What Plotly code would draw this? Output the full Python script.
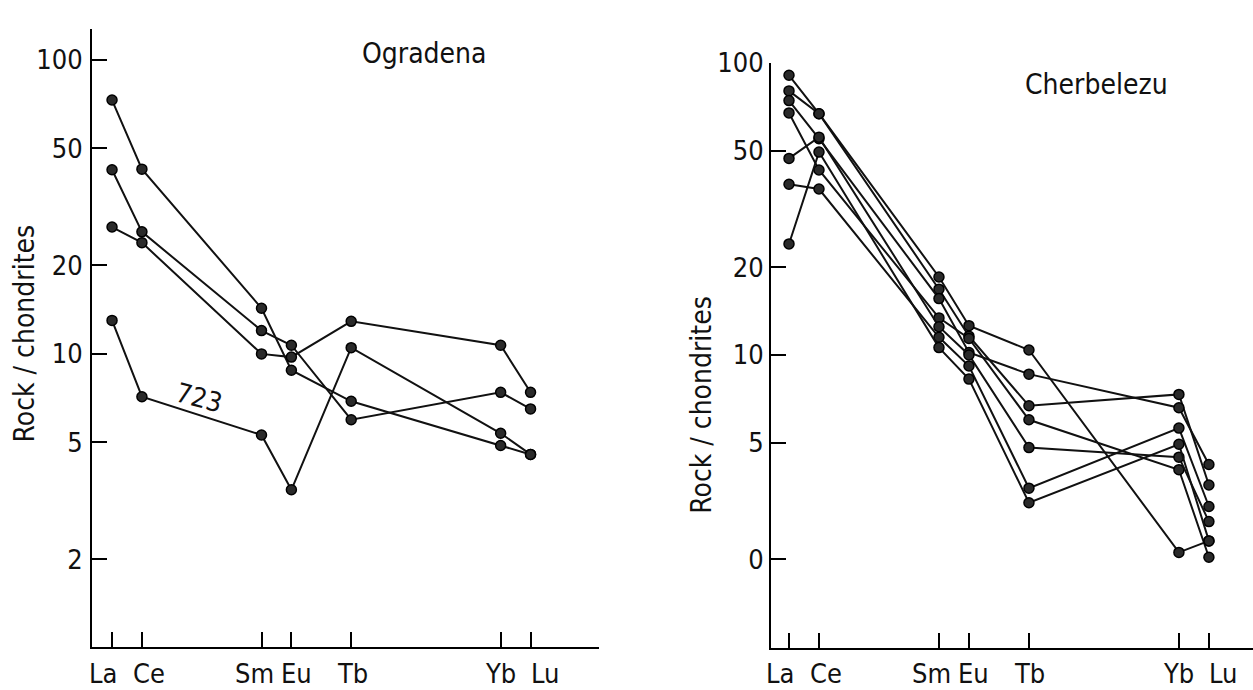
import math
import plotly.graph_objects as go

# REE positions (atomic number) and labels
elements = ["La", "Ce", "Sm", "Eu", "Tb", "Yb", "Lu"]
atomic_no = [57, 58, 62, 63, 65, 70, 71]

# Ogradena: chondrite-normalised REE patterns
ogradena_a = [73, 42.5, 14.3, 8.8, 6.9, 4.88, 4.55]
ogradena_b = [42.3, 26, 12.0, 10.7, 5.97, 7.4, 6.5]
ogradena_c = [27, 23.9, 10.0, 9.75, 12.9, 10.7, 7.4]
ogradena_723 = [13, 7.15, 5.3, 3.45, 10.5, 5.37, 4.55]

# Cherbelezu: chondrite-normalised REE patterns
cherbelezu_1 = [90.7, 67, 18.5, 12.6, 10.4, 2.11, 2.31]
cherbelezu_2 = [80.2, 67, 16.8, 11.6, 6.7, 7.33, 3.59]
cherbelezu_3 = [74.3, 55, 15.6, 10.2, 8.6, 6.6, 4.22]
cherbelezu_4 = [67.4, 43, 13.4, 11.4, 6.0, 4.05, 2.03]
cherbelezu_5 = [47.1, 55.7, 12.5, 10.0, 4.82, 4.47, 2.69]
cherbelezu_6 = [38.4, 37, 11.5, 9.17, 3.5, 5.62, 3.03]
cherbelezu_7 = [24.0, 49.5, 10.6, 8.27, 3.12, 4.95, 2.31]

y_tickvals = [2, 5, 10, 20, 50, 100]
y_ticktext_left = ["2", "5", "10", "20", "50", "100"]
y_ticktext_right = ["0", "5", "10", "20", "50", "100"]

FONT = "DejaVu Sans Condensed, Liberation Sans Narrow, DejaVu Sans, sans-serif"
W, H = 1253, 690

# horizontal nudges (px) that keep the crowded element labels apart
label_shift = {"La": -9, "Ce": 7, "Sm": -7, "Eu": 5, "Tb": 1, "Yb": 0, "Lu": 14}

fig = go.Figure()

line_style = dict(color="#111111", width=2)
marker_style = dict(size=10, color="#2a2a2a", line=dict(color="#000000", width=1.5))

for ys in [ogradena_a, ogradena_b, ogradena_c, ogradena_723]:
    fig.add_trace(go.Scatter(x=atomic_no, y=ys, mode="lines+markers",
                             line=line_style, marker=marker_style,
                             xaxis="x", yaxis="y", showlegend=False))

for ys in [cherbelezu_1, cherbelezu_2, cherbelezu_3, cherbelezu_4,
           cherbelezu_5, cherbelezu_6, cherbelezu_7]:
    fig.add_trace(go.Scatter(x=atomic_no, y=ys, mode="lines+markers",
                             line=line_style, marker=marker_style,
                             xaxis="x2", yaxis="y2", showlegend=False))

axis_common = dict(showgrid=False, zeroline=False, showline=True,
                   linecolor="#000000", linewidth=2,
                   ticks="inside", ticklen=15, tickwidth=2, tickcolor="#000000",
                   tickfont=dict(family=FONT, size=27, color="#111111"))

fig.update_layout(
    width=W, height=H,
    margin=dict(l=0, r=0, t=0, b=0),
    paper_bgcolor="#ffffff", plot_bgcolor="#ffffff",
    font=dict(family=FONT, color="#111111"),
    xaxis=dict(domain=[92 / W, 599 / W], range=[56.33, 73.29],
               tickvals=atomic_no, showticklabels=False, anchor="y", **axis_common),
    yaxis=dict(domain=[44 / H, 677 / H], type="log", range=[0.003, 2.106],
               tickvals=y_tickvals, ticktext=y_ticktext_left, anchor="x",
               ticklabelstandoff=2, **axis_common),
    xaxis2=dict(domain=[771 / W, 1.0], range=[56.4, 72.47],
                tickvals=atomic_no, showticklabels=False, anchor="y2", **axis_common),
    yaxis2=dict(domain=[43 / H, 642 / H], type="log", range=[-0.003, 2.0],
                tickvals=y_tickvals, ticktext=y_ticktext_right, anchor="x2",
                ticklabelstandoff=0, **axis_common),
)

# element labels under both x axes
for xref in ["x", "x2"]:
    for el, z in zip(elements, atomic_no):
        fig.add_annotation(text=el, x=z, y=1 - 673 / H, xref=xref, yref="paper",
                           xshift=label_shift[el], showarrow=False,
                           xanchor="center", yanchor="middle",
                           font=dict(family=FONT, size=27, color="#111111"))

def paper_text(text, px, py, size=28, angle=0):
    fig.add_annotation(text=text, x=px / W, y=1 - py / H, xref="paper", yref="paper",
                       showarrow=False, textangle=angle, xanchor="center", yanchor="middle",
                       font=dict(family=FONT, size=size, color="#111111"))

paper_text("Ogradena", 424, 38)
paper_text("Cherbelezu", 1096, 70)
paper_text("Rock / chondrites", 24, 325, angle=-90)
paper_text("Rock / chondrites", 702, 398, angle=-90)

fig.add_annotation(text="723", x=59.9, y=math.log10(7.1), xref="x", yref="y",
                   showarrow=False, textangle=15,
                   font=dict(family=FONT, size=27, color="#111111"))

fig.write_html("out.html")
